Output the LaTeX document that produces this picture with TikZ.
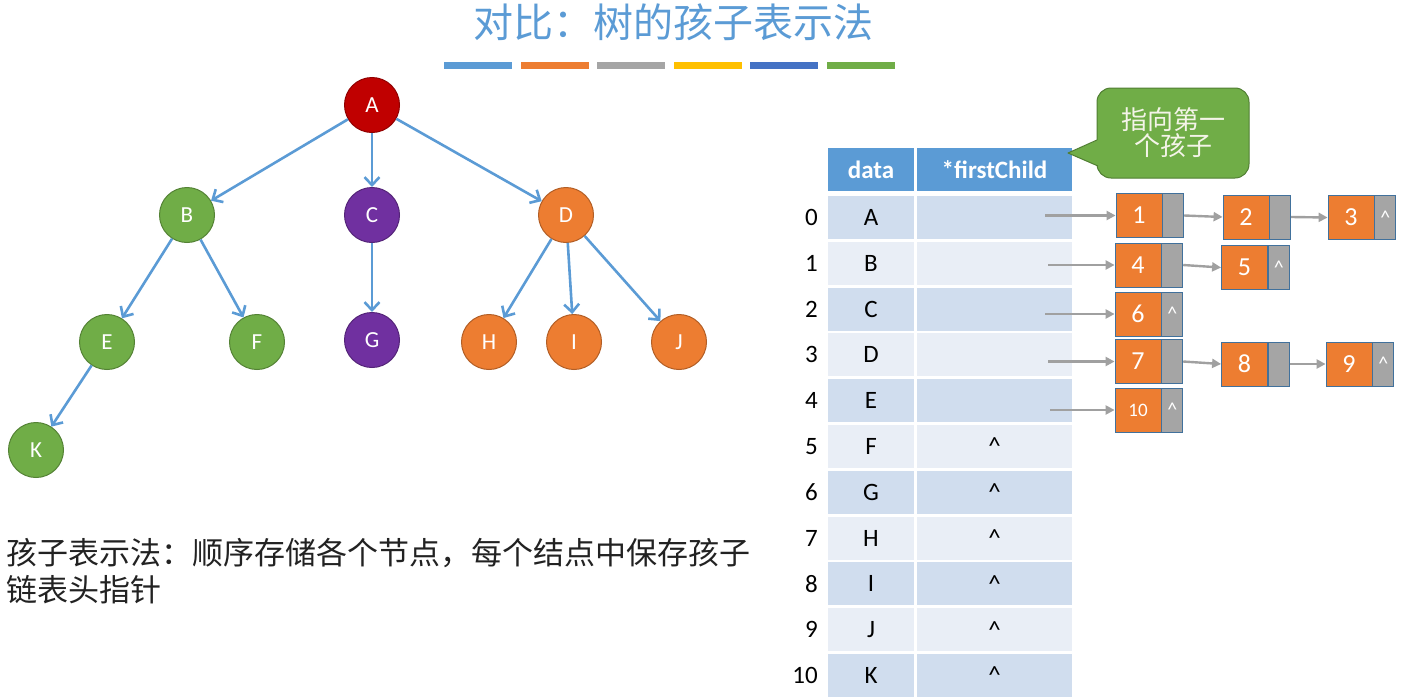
\documentclass[tikz,border=0pt]{standalone}
\usepackage{fontspec}
\setmainfont{Carlito}
\newfontfamily\cjk{Noto Sans CJK SC}
\usetikzlibrary{arrows.meta,positioning}
\definecolor{tblue}{HTML}{5B9BD5}
\definecolor{torange}{HTML}{ED7D31}
\definecolor{tgray}{HTML}{A5A5A5}
\definecolor{tyellow}{HTML}{FFC000}
\definecolor{tdblue}{HTML}{4472C4}
\definecolor{tgreen}{HTML}{70AD47}
\definecolor{tred}{HTML}{C00000}
\definecolor{tpurple}{HTML}{7030A0}
\definecolor{rowD}{HTML}{D0DDEE}
\definecolor{rowL}{HTML}{E9EEF6}
\definecolor{lborder}{HTML}{41719C}
\definecolor{cborder}{HTML}{507E32}
\definecolor{ctext}{HTML}{F4F4E8}
\definecolor{darktext}{HTML}{222222}
\definecolor{arrgray}{HTML}{A0A0A0}
\begin{document}
\begin{tikzpicture}[x=1pt,y=-1pt,
  tn/.style={circle, minimum size=55pt, inner sep=0pt, fill=#1, draw=#1!75!black, line width=1pt,
    text=white, font=\fontsize{23}{25}\selectfont},
  tedge/.style={draw=tblue, line width=2.6pt, -{Straight Barb[length=8pt,width=15pt]}},
  hcell/.style={rectangle, fill=tblue, minimum height=43pt, inner sep=0pt, text=white,
    font=\bfseries\fontsize{25}{28}\selectfont},
  cell/.style={rectangle, minimum height=43pt, inner sep=0pt, text=black,
    font=\fontsize{25}{27}\selectfont},
  idx/.style={anchor=east, inner sep=0pt, text=black, font=\fontsize{25}{27}\selectfont},
  lo/.style={rectangle, fill=torange, draw=lborder, line width=0.8pt, minimum width=46pt,
    minimum height=44pt, inner sep=0pt, text=white, font=\fontsize{26}{28}\selectfont},
  lg/.style={rectangle, fill=tgray, draw=lborder, line width=0.8pt, minimum width=21pt,
    minimum height=44pt, inner sep=0pt, text=white, font=\fontsize{20}{22}\selectfont},
  garrow/.style={draw=arrgray, line width=2.4pt, -{Triangle[length=9pt,width=9pt]}},
  callbox/.style={rectangle, rounded corners=14pt, fill=tgreen, draw=cborder, line width=1pt,
    minimum width=152pt, minimum height=90pt, inner sep=0pt, align=center, text=ctext,
    font=\cjk\fontsize{26}{26}\selectfont}
]
\useasboundingbox (0,0) rectangle (1410,699);

% title
\node[text=tblue, font=\cjk\fontsize{40}{44}\selectfont] (title) at (673,22) {对比：树的孩子表示法};
\foreach \c [count=\k from 0] in {tblue,torange,tgray,tyellow,tdblue,tgreen}
  \fill[\c] (444+76.6*\k,62) rectangle ++(68,7);

% tree
\node[tn=tred]    (A) at (372,105) {A};
\node[tn=tgreen]  (B) at (187,215) {B};
\node[tn=tpurple] (C) at (372,215) {C};
\node[tn=torange] (D) at (566,215) {D};
\node[tn=tgreen]  (E) at (107,342) {E};
\node[tn=tgreen]  (F) at (257,342) {F};
\node[tn=tpurple] (G) at (372,340) {G};
\node[tn=torange] (H) at (489,342) {H};
\node[tn=torange] (I) at (574,342) {I};
\node[tn=torange] (J) at (679,342) {J};
\node[tn=tgreen]  (K) at (36,450) {K};
\draw[tedge] (A) -- (B);
\draw[tedge] (A) -- (C);
\draw[tedge] (A) -- (D);
\draw[tedge] (B) -- (E);
\draw[tedge] (B) -- (F);
\draw[tedge] (C) -- (G);
\draw[tedge] (D) -- (H);
\draw[tedge] (D) -- (I);
\draw[tedge] (D) -- (J);
\draw[tedge] (E) -- (K);

% description
\node[anchor=west, inner sep=0pt, text=darktext, font=\cjk\fontsize{31}{37}\selectfont] (desc1) at (6,553)
  {孩子表示法：顺序存储各个节点，每个结点中保存孩子};
\node[anchor=west, inner sep=0pt, text=darktext, font=\cjk\fontsize{31}{37}\selectfont] (desc2) at (6,590)
  {链表头指针};

% table
\node[hcell, minimum width=86pt]  (hd) at (871,169.5) {data};
\node[hcell, minimum width=155pt] (hp) at (994.5,169.5) {*firstChild};
\foreach \i/\l/\c/\p in {0/A/rowD/,1/B/rowL/,2/C/rowD/,3/D/rowL/,4/E/rowD/,
   5/F/rowL/\textasciicircum,6/G/rowD/\textasciicircum,7/H/rowL/\textasciicircum,
   8/I/rowD/\textasciicircum,9/J/rowL/\textasciicircum,10/K/rowD/\textasciicircum} {
  \pgfmathsetmacro\yy{217.5+45.8*\i}
  \node[cell, fill=\c, minimum width=86pt]  (d\i) at (871,\yy) {\l};
  \node[cell, fill=\c, minimum width=155pt] (p\i) at (994.5,\yy) {\p};
  \node[idx] (i\i) at (818,\yy) {\i};
}

% linked lists
\node[lo] (n1) at (1139,215.5) {1};   \node[lg, anchor=west] (g1) at (n1.east) {};
\node[lo] (n2) at (1246,217) {2};     \node[lg, anchor=west] (g2) at (n2.east) {};
\node[lo] (n3) at (1351,217.5) {3};   \node[lg, anchor=west] (g3) at (n3.east) {\textasciicircum};
\node[lo] (n4) at (1138,265) {4};     \node[lg, anchor=west] (g4) at (n4.east) {};
\node[lo] (n5) at (1244.5,267.5) {5}; \node[lg, anchor=west] (g5) at (n5.east) {\textasciicircum};
\node[lo] (n6) at (1138,314) {6};     \node[lg, anchor=west] (g6) at (n6.east) {\textasciicircum};
\node[lo] (n7) at (1138,361.5) {7};   \node[lg, anchor=west] (g7) at (n7.east) {};
\node[lo] (n8) at (1244.5,364) {8};   \node[lg, anchor=west] (g8) at (n8.east) {};
\node[lo] (n9) at (1349,364) {9};     \node[lg, anchor=west] (g9) at (n9.east) {\textasciicircum};
\node[lo, font=\fontsize{19}{22}\selectfont] (n10) at (1138,410) {10};
\node[lg, anchor=west] (g10) at (n10.east) {\textasciicircum};

\coordinate (s0) at (1045,215.5);
\coordinate (s1) at (1048,265);
\coordinate (s2) at (1045,314);
\coordinate (s3) at (1048,361.5);
\coordinate (s4) at (1050,410);
\draw[garrow] (s0) -- (s0 -| n1.west);
\draw[garrow] (s1) -- (s1 -| n4.west);
\draw[garrow] (s2) -- (s2 -| n6.west);
\draw[garrow] (s3) -- (s3 -| n7.west);
\draw[garrow] (s4) -- (s4 -| n10.west);
\draw[garrow] (g1.east) -- (n2.west);
\draw[garrow] (g2.east) -- (n3.west);
\draw[garrow] (g4.east) -- (n5.west);
\draw[garrow] (g7.east) -- (n8.west);
\draw[garrow] (g8.east) -- (n9.west);

% callout
\node[callbox] (call) at (1173,133) {指向第一\\个孩子};
\coordinate (tip) at (1068,153);
\fill[tgreen] (tip) -- (1100,139) -- (1100,167) -- cycle;
\draw[cborder, line width=1pt, line join=round] (1097,140) -- (tip) -- (1098,166);
\end{tikzpicture}
\end{document}
